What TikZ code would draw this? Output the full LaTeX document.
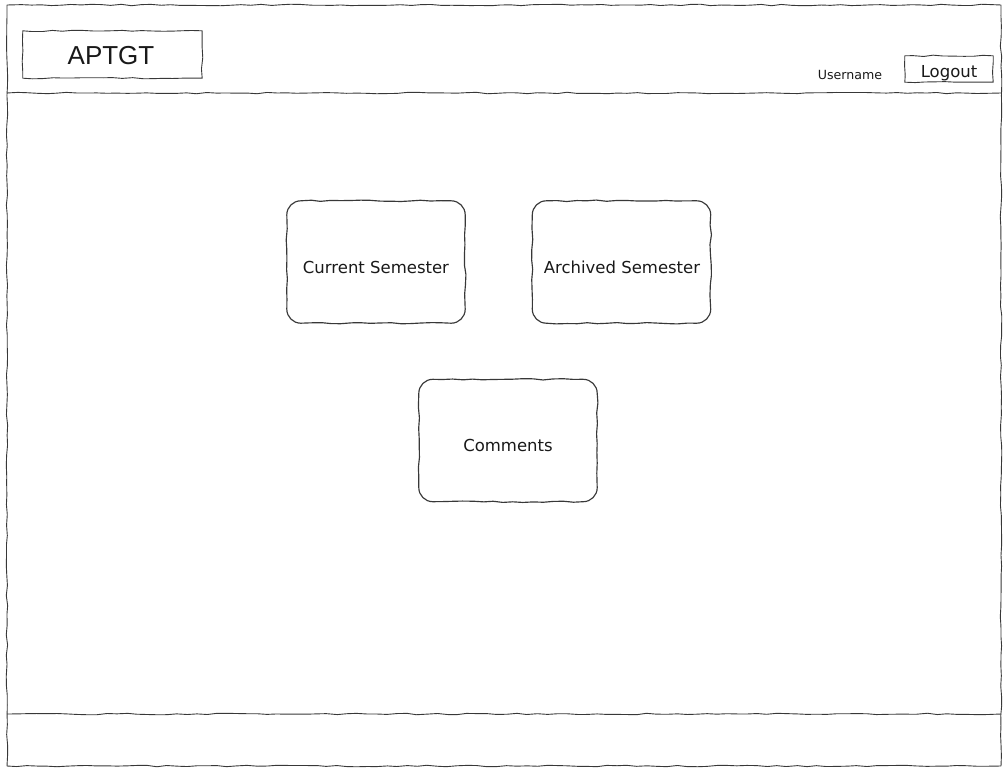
\documentclass[tikz,border=0pt]{standalone}
\usepackage{fontspec}
\setmainfont{DejaVu Sans}
\newfontfamily\logofont{Liberation Sans}
\usetikzlibrary{decorations.pathmorphing}
\newcommand\rbox[1]{%
  \draw[skline, line width=1.15pt] ([xshift=14pt]#1.north west)
    decorate{-- ([xshift=-14pt]#1.north east)}
    arc[start angle=-90,end angle=0,radius=14]
    decorate{-- ([yshift=14pt]#1.south east)}
    arc[start angle=0,end angle=90,radius=14]
    decorate{-- ([xshift=14pt]#1.south west)}
    arc[start angle=90,end angle=180,radius=14]
    decorate{-- ([yshift=-14pt]#1.north west)}
    arc[start angle=180,end angle=270,radius=14];}
\begin{document}
\begin{tikzpicture}[x=1pt,y=-1pt,
  skline/.style={draw=black!78, line width=0.9pt, line join=round,
    decoration={random steps, segment length=10pt, amplitude=0.75pt}},
  sketch/.style={skline, decorate},
  card/.style={draw=none, minimum width=178pt, minimum height=122pt, inner sep=0pt},
  lbl/.style={inner sep=0pt, text=black!90}]
\pgfmathsetseed{11}
\useasboundingbox (0,0) rectangle (1003,768);
\fill[white] (0,0) rectangle (1003,768);
% outer frame
\coordinate (fnw) at (7,5);
\coordinate (fse) at (1001,766);
\draw[sketch] (fnw) rectangle (fse);
% header / footer separators
\coordinate (hl) at (7,93);
\coordinate (hr) at (1001,93);
\draw[sketch] (hl) -- (hr);
\coordinate (fl) at (7,714);
\coordinate (fr) at (1001,714);
\draw[sketch] (fl) -- (fr);
% logo
\node[lbl, minimum width=179pt, minimum height=47pt] (logo) at (112.5,54.5) {};
\draw[sketch] (logo.north west) rectangle (logo.south east);
\node[lbl, font=\logofont\fontsize{26}{30}\selectfont] (logotxt) at (111,56) {APTGT};
% user area
\node[lbl, font=\fontsize{12.6}{15}\selectfont] (user) at (850,74.5) {Username};
\node[lbl, minimum width=88pt, minimum height=26pt] (logout) at (949,69) {};
\draw[sketch] (logout.north west) rectangle (logout.south east);
\node[lbl, font=\fontsize{16.5}{19}\selectfont] (logouttxt) at (949,73) {Logout};
% cards
\node[card] (cur) at (376,262) {};
\rbox{cur}
\node[lbl, font=\fontsize{16.5}{19}\selectfont] (curtxt) at (376,267) {Current Semester};
\node[card] (arc) at (621.5,262) {};
\rbox{arc}
\node[lbl, font=\fontsize{16.5}{19}\selectfont] (arctxt) at (622,267) {Archived Semester};
\node[card] (com) at (508,440.5) {};
\rbox{com}
\node[lbl, font=\fontsize{16.5}{19}\selectfont] (comtxt) at (508,445) {Comments};
\end{tikzpicture}
\end{document}
